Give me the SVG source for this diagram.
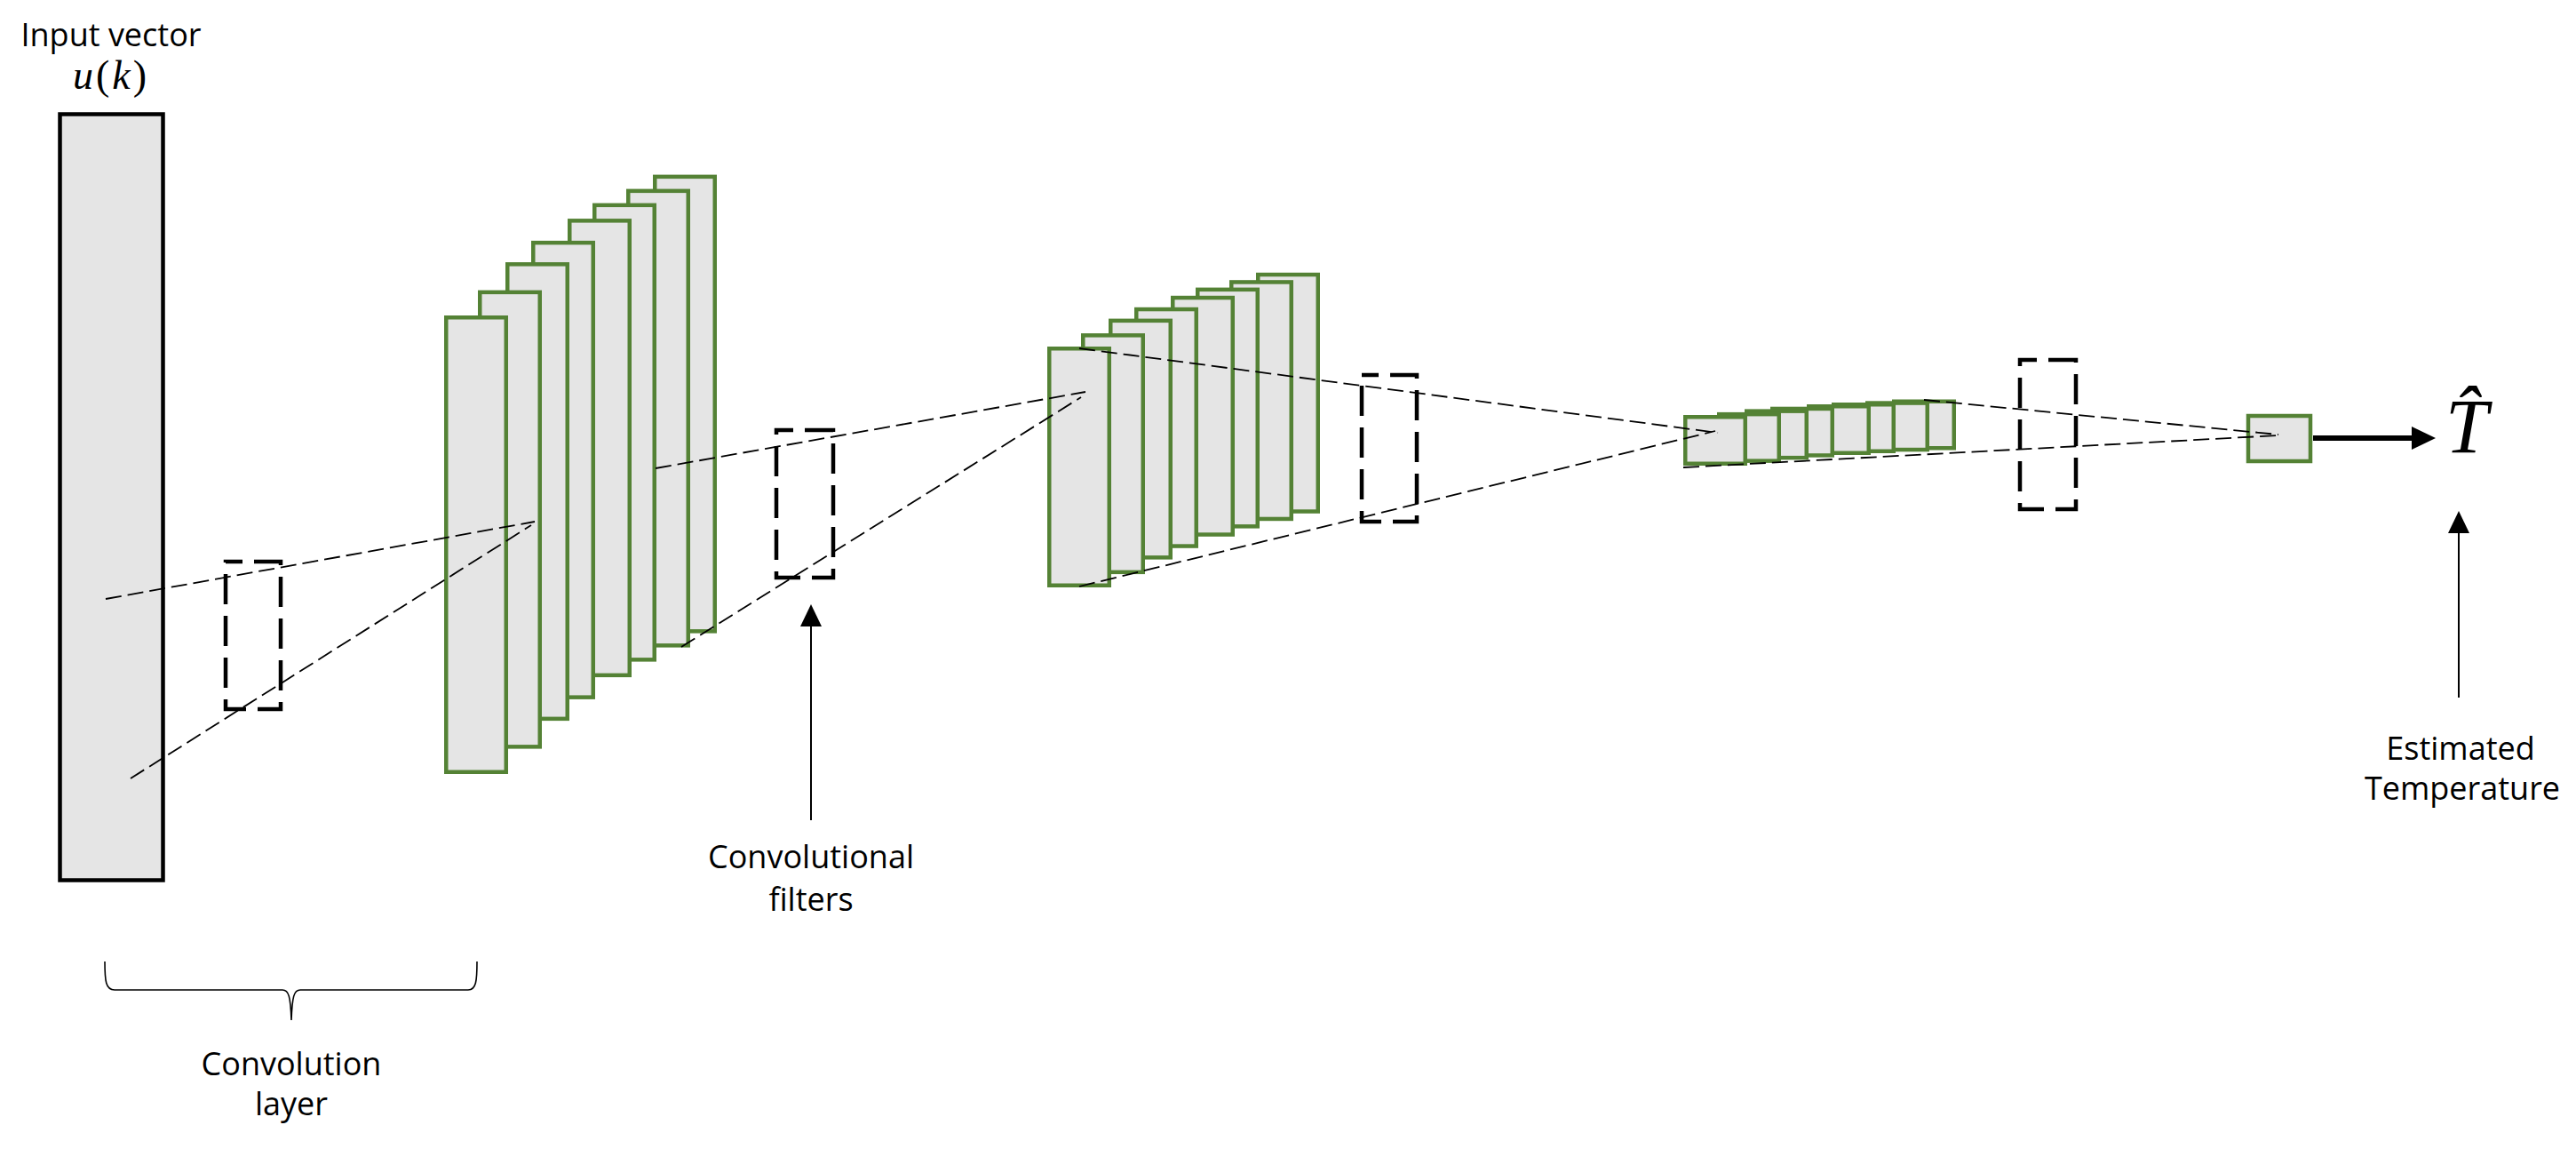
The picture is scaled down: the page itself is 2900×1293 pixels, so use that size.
<svg xmlns="http://www.w3.org/2000/svg" width="2900" height="1293" viewBox="0 0 2900 1293">
<style>
.lbl{font-family:"Open Sans","Liberation Sans",sans-serif;font-size:36px;fill:#000;text-anchor:middle}
.math{font-family:"Liberation Serif","DejaVu Serif",serif;fill:#000}
.fm{fill:#e5e5e5;stroke:#548235;stroke-width:4.5}
.inp{fill:#e5e5e5;stroke:#000;stroke-width:4.5}
.filt{fill:none;stroke:#000;stroke-width:4.5;stroke-dasharray:34 13;stroke-dashoffset:15}
.dl{fill:none;stroke:#000;stroke-width:1.8;stroke-dasharray:18 7}
.ar{fill:none;stroke:#000;stroke-width:2}
.brace{fill:none;stroke:#000;stroke-width:1.6}
</style>
<rect width="2900" height="1293" fill="#fff"/>

<g id="input">
<rect class="inp" x="67.5" y="128.5" width="116" height="862"/>
<text class="lbl" x="125" y="52">Input vector</text>
<text class="math" x="125" y="100" font-size="46" text-anchor="middle" letter-spacing="3"><tspan font-style="italic">u</tspan>(<tspan font-style="italic">k</tspan>)</text>
</g>

<g id="filter1"><rect class="filt" x="254" y="632" width="62" height="166"/></g>

<g id="stack1">
<rect class="fm" x="737.25" y="198.85" width="67.5" height="511.5"/>
<rect class="fm" x="707.25" y="214.85" width="67.5" height="511.5"/>
<rect class="fm" x="669.25" y="230.85" width="67.5" height="511.5"/>
<rect class="fm" x="641.25" y="248.35" width="67.5" height="511.5"/>
<rect class="fm" x="600.25" y="273.15" width="67.5" height="511.5"/>
<rect class="fm" x="571.25" y="297.35" width="67.5" height="511.5"/>
<rect class="fm" x="540.25" y="328.85" width="67.5" height="511.5"/>
<rect class="fm" x="502.25" y="357.25" width="67.5" height="511.5"/>
</g>

<g id="filter2"><rect class="filt" x="874" y="484" width="64" height="166"/></g>

<g id="stack2">
<rect class="fm" x="1416.25" y="309.05" width="67.5" height="266.5"/>
<rect class="fm" x="1386.25" y="317.45" width="67.5" height="266.5"/>
<rect class="fm" x="1348.25" y="325.85" width="67.5" height="266.5"/>
<rect class="fm" x="1320.25" y="335.05" width="67.5" height="266.5"/>
<rect class="fm" x="1279.25" y="348.05" width="67.5" height="266.5"/>
<rect class="fm" x="1250.25" y="360.85" width="67.5" height="266.5"/>
<rect class="fm" x="1219.25" y="377.35" width="67.5" height="266.5"/>
<rect class="fm" x="1181.25" y="392.25" width="67.5" height="266.5"/>
</g>

<g id="filter3"><rect class="filt" x="1533" y="422" width="62" height="165"/></g>

<g id="stack3">
<rect class="fm" x="2132.25" y="451.75" width="67.5" height="52.5"/>
<rect class="fm" x="2102.25" y="453.55" width="67.5" height="52.5"/>
<rect class="fm" x="2064.25" y="455.25" width="67.5" height="52.5"/>
<rect class="fm" x="2036.25" y="457.25" width="67.5" height="52.5"/>
<rect class="fm" x="1995.25" y="459.95" width="67.5" height="52.5"/>
<rect class="fm" x="1966.25" y="462.65" width="67.5" height="52.5"/>
<rect class="fm" x="1935.25" y="466.15" width="67.5" height="52.5"/>
<rect class="fm" x="1897.25" y="469.25" width="67.5" height="52.5"/>
</g>

<g id="filter4"><rect class="filt" x="2274" y="405" width="63" height="168"/></g>

<g id="output">
<rect class="fm" x="2531" y="468" width="70" height="51"/>
</g>

<g id="that">
<text class="math" x="2753" y="509" font-size="86" font-style="italic">T̂</text>
</g>

<g id="label-filters">
<text class="lbl" x="913" y="977">Convolutional</text>
<text class="lbl" x="913" y="1025">filters</text>
</g>

<g id="label-temp">
<text class="lbl" x="2770" y="855">Estimated</text>
<text class="lbl" x="2772" y="900">Temperature</text>
</g>

<g id="label-conv">
<path class="brace" d="M118,1082 C118,1104 119,1114 129,1114 L318,1114 C325,1114 327,1121 328,1148 C329,1121 331,1114 338,1114 L527,1114 C536,1114 537,1104 537,1082"/>
<text class="lbl" x="328" y="1210">Convolution</text>
<text class="lbl" x="328" y="1255">layer</text>
</g>

<g id="connectors">
<line class="dl" x1="119" y1="674" x2="602" y2="587"/>
<line class="dl" x1="147" y1="876" x2="598" y2="591"/>
<line class="dl" x1="738" y1="527" x2="1222" y2="441"/>
<line class="dl" x1="767" y1="728" x2="1217" y2="447"/>
<line class="dl" x1="1215" y1="392" x2="1934" y2="487"/>
<line class="dl" x1="1215" y1="660" x2="1931" y2="485"/>
<line class="dl" x1="2166" y1="450" x2="2565" y2="489"/>
<line class="dl" x1="1895" y1="526" x2="2565" y2="490"/>
<line x1="2604" y1="493" x2="2718" y2="493" stroke="#000" stroke-width="6"/>
<polygon points="2715,480 2742,493 2715,506" fill="#000"/>
<line class="ar" x1="913" y1="923" x2="913" y2="700"/>
<polygon points="901,705 913,680 925,705" fill="#000"/>
<line class="ar" x1="2768" y1="785" x2="2768" y2="596"/>
<polygon points="2756,600 2768,575 2780,600" fill="#000"/>
</g>
</svg>
